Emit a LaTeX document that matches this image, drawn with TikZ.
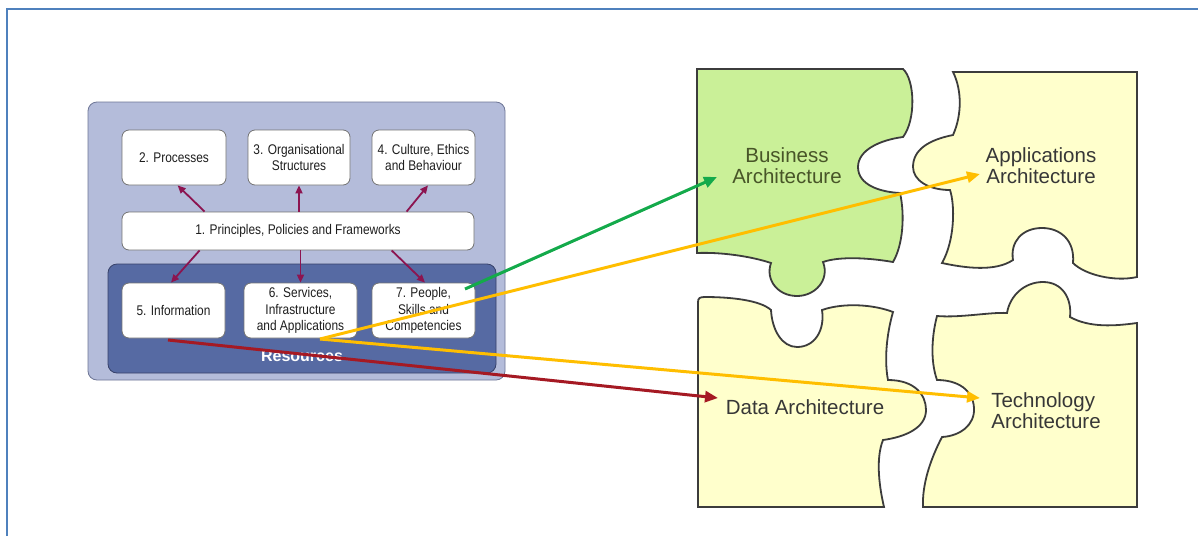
\documentclass[tikz,border=0pt]{standalone}
\usepackage{fontspec}
\setmainfont{Liberation Sans}
\newfontfamily\nf[FakeStretch=0.85]{Liberation Sans}
\usetikzlibrary{arrows.meta}
\definecolor{frameblue}{RGB}{79,129,189}
\definecolor{outerfill}{RGB}{180,188,218}
\definecolor{outerdraw}{RGB}{110,118,150}
\definecolor{resfill}{RGB}{86,106,163}
\definecolor{resdraw}{RGB}{55,65,105}
\definecolor{boxtext}{RGB}{30,30,30}
\definecolor{purp}{RGB}{140,20,80}
\definecolor{garrow}{RGB}{20,170,75}
\definecolor{yarrow}{RGB}{255,190,0}
\definecolor{rarrow}{RGB}{165,25,35}
\definecolor{bizfill}{RGB}{202,240,152}
\definecolor{pzfill}{RGB}{255,255,204}
\definecolor{pzdraw}{RGB}{60,60,60}
\definecolor{biztext}{RGB}{72,85,40}
\definecolor{pztext}{RGB}{55,55,55}
\tikzset{
  box/.style={draw=black!55, line width=0.8pt, fill=white, rounded corners=7pt,
    text=boxtext, font=\nf\fontsize{14}{16.6}\selectfont, align=center,
    inner sep=0pt, minimum height=55pt},
  purparrow/.style={draw=purp, line width=1.8pt, -{Triangle[length=8pt,width=7pt]}},
  bigarrow/.style={line width=3pt, -{Triangle[length=13pt,width=11pt]}},
  piece/.style={draw=pzdraw, line width=1.8pt, fill=pzfill},
  ptext/.style={font=\fontsize{20.5}{21}\selectfont, text=pztext, align=center, inner sep=0pt}
}
\begin{document}
\begin{tikzpicture}[x=1pt,y=-1pt]
\useasboundingbox (0,0) rectangle (1198,536);
\fill[white] (0,0) rectangle (1198,536);
% frame
\draw[frameblue, line width=2pt] (7,536) -- (7,9) -- (1198,9);

% left diagram containers
\draw[fill=outerfill, draw=outerdraw, line width=0.8pt, rounded corners=9pt] (88,102) rectangle (505,380);
\draw[fill=resfill, draw=resdraw, line width=0.8pt, rounded corners=9pt] (108,264) rectangle (496,373);
\node[text=white, font=\bfseries\fontsize{16}{18}\selectfont, inner sep=0pt] (res) at (302,356) {Resources};

% boxes
\node[box, minimum width=104pt] (b2) at (174,157.5) {2. Processes};
\node[box, minimum width=102pt] (b3) at (299,157.5) {3. Organisational\\Structures};
\node[box, minimum width=103pt] (b4) at (423.5,157.5) {4. Culture, Ethics\\and Behaviour};
\node[box, minimum width=352pt, minimum height=38pt] (p1) at (298,231) {1. Principles, Policies and Frameworks};
\node[box, minimum width=103pt] (b5) at (173.5,310.5) {5. Information};
\node[box, minimum width=113pt] (b6) at (300.5,310.5) {6. Services,\\Infrastructure\\and Applications};
\node[box, minimum width=103pt] (b7) at (423.5,310.5) {7. People,\\Skills and\\Competencies};

% purple arrows
\draw[purparrow] ([xshift=83pt]p1.north west) -- ([xshift=56pt]b2.south west);
\draw[purparrow] (b3.south |- p1.north) -- (b3.south);
\draw[purparrow] ([xshift=285pt]p1.north west) -- ([xshift=4.5pt]b4.south);
\draw[purparrow] ([xshift=78pt]p1.south west) -- ([xshift=-2.5pt]b5.north);
\draw[purparrow] (b6.north |- p1.south) -- (b6.north);
\draw[purparrow] ([xshift=270pt]p1.south west) -- ([xshift=1.5pt]b7.north);

% puzzle pieces
% Business
\draw[piece, fill=bizfill] (697,69) -- (903,69)
  .. controls (915,80) and (916,120) .. (903,137)
  .. controls (880,140) and (858,150) .. (858,167)
  .. controls (858,185) and (880,192) .. (900,193)
  .. controls (905,215) and (903,245) .. (893,262)
  .. controls (870,258) and (840,256) .. (823,262)
  .. controls (830,280) and (815,296) .. (797,296)
  .. controls (778,296) and (765,280) .. (771,263)
  .. controls (750,256) and (720,252) .. (697,253) -- cycle;
% Applications
\draw[piece] (953,72) -- (1137,72) -- (1137,277)
  .. controls (1115,282) and (1085,275) .. (1073,263)
  .. controls (1075,240) and (1060,228) .. (1042,228)
  .. controls (1022,228) and (1010,242) .. (1013,260)
  .. controls (995,272) and (965,268) .. (942,263)
  .. controls (955,240) and (955,205) .. (950,190)
  .. controls (928,190) and (913,180) .. (913,167)
  .. controls (913,150) and (928,140) .. (953,135)
  .. controls (962,115) and (962,90) .. (953,72) -- cycle;
% Data
\draw[piece] (698,302) .. controls (698,298) and (700,297) .. (705,297)
  .. controls (730,297) and (760,300) .. (771,310)
  .. controls (772,330) and (782,347) .. (797,347)
  .. controls (815,347) and (825,330) .. (822,310)
  .. controls (845,302) and (875,305) .. (893,312)
  .. controls (885,340) and (885,365) .. (888,380)
  .. controls (915,380) and (926,395) .. (926,410)
  .. controls (926,428) and (905,437) .. (883,440)
  .. controls (875,460) and (880,490) .. (884,507)
  -- (698,507) -- cycle;
% Technology
\draw[piece] (937,316) .. controls (960,318) and (990,312) .. (1007,313)
  .. controls (1010,295) and (1025,282) .. (1043,282)
  .. controls (1062,282) and (1072,298) .. (1070,317)
  .. controls (1090,328) and (1115,326) .. (1137,323)
  -- (1137,507) -- (923,507)
  .. controls (922,485) and (930,460) .. (942,437)
  .. controls (960,436) and (975,425) .. (974,408)
  .. controls (973,390) and (958,380) .. (937,380)
  .. controls (930,360) and (932,335) .. (937,316) -- cycle;

% puzzle texts
\node[ptext, text=biztext] (bt) at (787,166) {Business\\Architecture};
\node[ptext] (at) at (1041,166) {Applications\\Architecture};
\node[ptext] (dt) at (805,407.5) {Data Architecture};
\node[ptext, align=left] (tt) at (1046,411) {Technology\\Architecture};

% connector end points
\coordinate (gs) at (465,289);
\coordinate (ys) at (320,339);
\coordinate (rs) at (168,340);
\coordinate (ge) at (717,177);
\coordinate (ae) at (980,174);
\coordinate (te) at (980,398);
\coordinate (de) at (718,398);

% coloured arrows
\draw[bigarrow, draw=rarrow, fill=rarrow] (rs) -- (de);
\draw[bigarrow, draw=yarrow, fill=yarrow] (ys) -- (te);
\draw[bigarrow, draw=yarrow, fill=yarrow] (ys) -- (ae);
\draw[bigarrow, draw=garrow, fill=garrow] (gs) -- (ge);
\end{tikzpicture}
\end{document}
